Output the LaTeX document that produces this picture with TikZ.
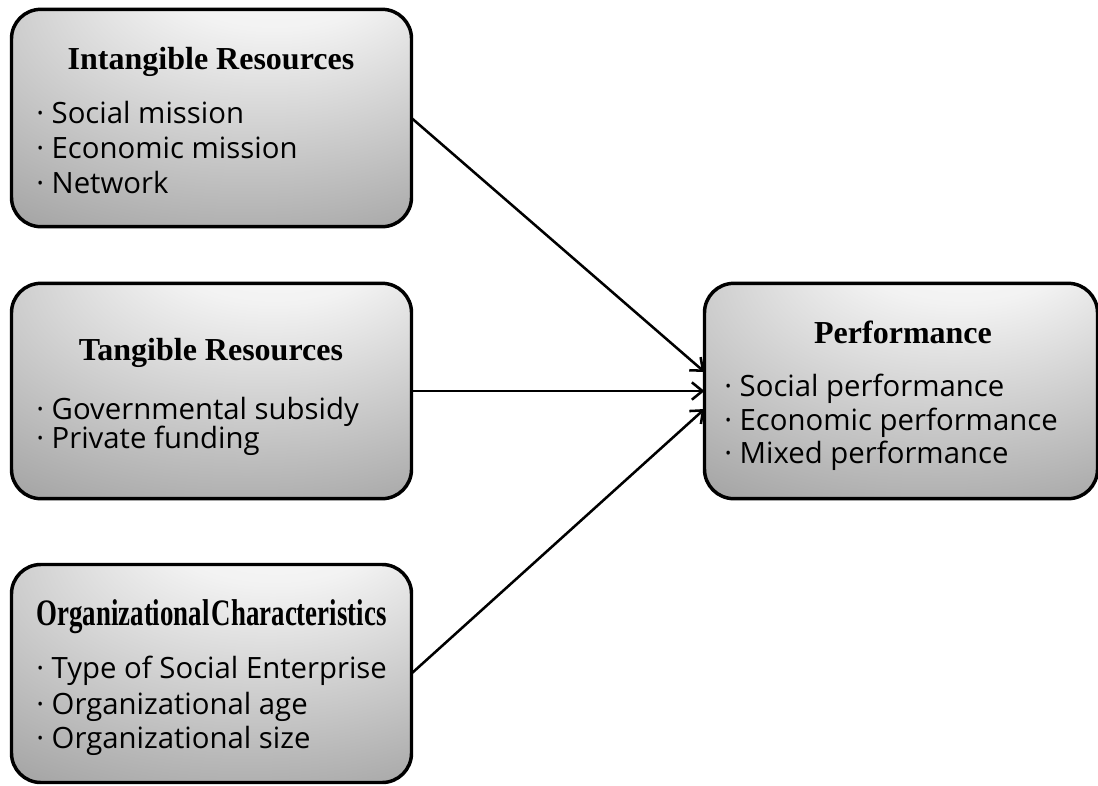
\documentclass[tikz,border=0pt]{standalone}
\usepackage{graphicx}
\usepackage{fontspec}
\setmainfont{Liberation Serif}
\newfontfamily\itemfont{Open Sans}
\usetikzlibrary{arrows.meta}

% soft highlight near the top of each panel, darkening towards the corners
\pgfdeclareradialshading{panelshade}{\pgfpoint{10bp}{45bp}}{%
  color(0bp)=(white);
  color(15bp)=(black!5);
  color(45bp)=(black!33);
  color(70bp)=(black!58)}

\begin{document}
\begin{tikzpicture}[x=0.75pt,y=-0.75pt,
  panel/.style={draw=black, line width=2.6pt, rounded corners=22pt,
    shade, shading=panelshade, inner sep=0pt, outer sep=0pt},
  heading/.style={font=\bfseries\fontsize{24}{28}\selectfont, inner sep=0pt, anchor=base},
  entry/.style={font=\itemfont\fontsize{22}{26}\selectfont, inner sep=0pt, anchor=base west},
  link/.style={line width=1.9pt, -{Straight Barb[length=8pt,width=13pt]}}]

\useasboundingbox (0,0) rectangle (1098,785);

% panels
\node[panel, minimum width=300pt, minimum height=163pt] (intang) at (211.5,118) {};
\node[panel, minimum width=300pt, minimum height=161.5pt] (tang) at (211.5,391) {};
\node[panel, minimum width=300pt, minimum height=163.5pt] (org) at (211.5,673.5) {};
\node[panel, minimum width=294.75pt, minimum height=161.5pt] (perf) at (901,391) {};

% intangible resources
\node[heading] (intangT) at (211,69) {Intangible Resources};
\node[entry] (intang1) at (36,123) {· Social mission};
\node[entry] (intang2) at (36,158) {· Economic mission};
\node[entry] (intang3) at (36,193) {· Network};

% tangible resources
\node[heading] (tangT) at (211,360) {Tangible Resources};
\node[entry] (tang1) at (36,419) {· Governmental subsidy};
\node[entry] (tang2) at (36,448) {· Private funding};

% organizational characteristics
\node[heading] (orgT) at (211.5,625)
  {\scalebox{0.72}[1]{\fontsize{28}{32}\selectfont Organizational\hspace{0.08em}Characteristics}};
\node[entry] (org1) at (36,678) {· Type of Social Enterprise};
\node[entry] (org2) at (36,714) {· Organizational age};
\node[entry] (org3) at (36,748) {· Organizational size};

% performance
\node[heading] (perfT) at (903,343) {Performance};
\node[entry] (perf1) at (724,396) {· Social performance};
\node[entry] (perf2) at (724,430) {· Economic performance};
\node[entry] (perf3) at (724,463) {· Mixed performance};

% influences
\draw[link] (intang.east) -- ([yshift=14.25pt]perf.west);
\draw[link] (tang.east) -- (perf.west);
\draw[link] (org.east) -- ([yshift=-13.5pt]perf.west);
\end{tikzpicture}
\end{document}
